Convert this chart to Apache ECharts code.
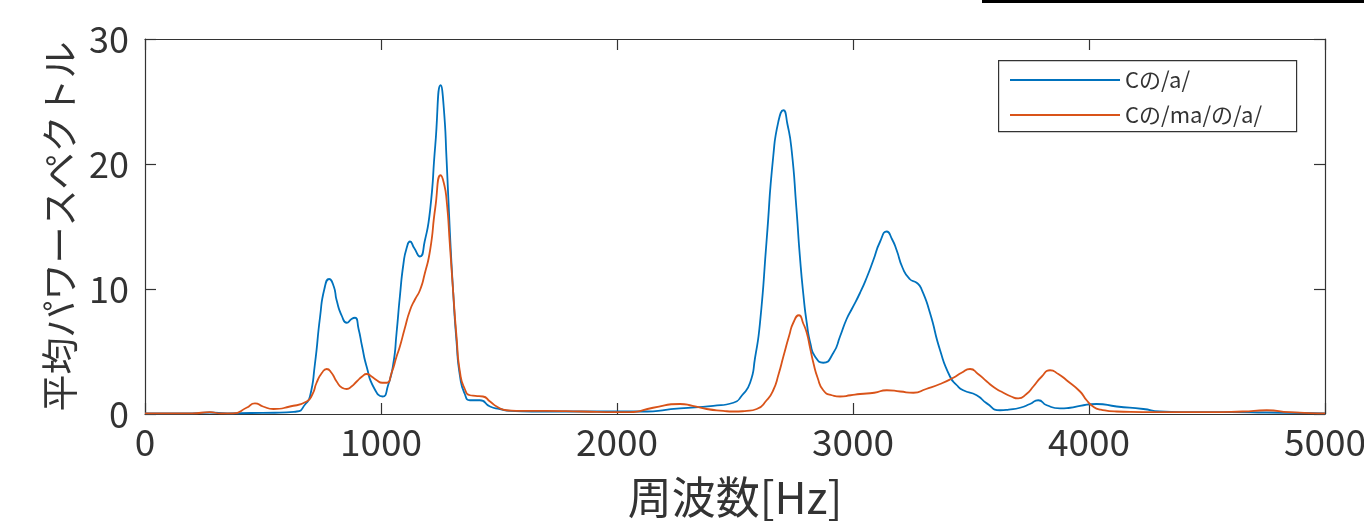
<!DOCTYPE html>
<html>
<head>
<meta charset="utf-8">
<script src="https://cdn.jsdelivr.net/npm/echarts@6/dist/echarts.min.js"></script>
<style>
  html, body { margin: 0; padding: 0; background: #fff; }
  #chart { width: 1364px; height: 521px; }
</style>
</head>
<body>
<div id="chart"></div>
<script>
// Cの/a/
const freqA = [0, 200, 275, 350, 450, 550, 643, 680, 699, 720, 742, 760, 780, 800, 812, 835, 855, 875, 890, 905,
  920, 939, 970, 1007, 1030, 1052, 1066, 1080, 1095, 1109, 1123, 1140, 1165, 1185, 1208, 1230, 1253, 1266, 1278, 1292,
  1306, 1320, 1335, 1355, 1377, 1419, 1462, 1504, 1547, 1700, 1850, 2000, 2100, 2267, 2408, 2493, 2530, 2564, 2585, 2606,
  2634, 2662, 2685, 2705, 2722, 2740, 2760, 2775, 2790, 2804, 2820, 2839, 2874, 2917, 2945, 2973, 2995, 3030, 3060, 3086,
  3115, 3143, 3165, 3185, 3210, 3240, 3270, 3290, 3326, 3369, 3411, 3440, 3467, 3524, 3567, 3623, 3660, 3708, 3750, 3785,
  3821, 3877, 3920, 3962, 4032, 4117, 4230, 4300, 4450, 4600, 4750, 4900, 5000];
const powerA = [0.05, 0.05, 0.12, 0.05, 0.08, 0.1, 0.2, 0.8, 1.4, 4.0, 7.8, 10.0, 10.8, 10.2, 9.1, 7.8, 7.3, 7.6, 7.7, 6.8,
  5.4, 3.8, 2.1, 1.4, 2.3, 4.0, 6.5, 9.4, 12.0, 13.3, 13.8, 13.3, 12.6, 13.8, 16.3, 21.5, 26.3, 24.5, 20.3, 14.5,
  9.7, 5.8, 3.0, 1.6, 1.1, 1.1, 0.6, 0.4, 0.25, 0.2, 0.2, 0.2, 0.2, 0.45, 0.65, 0.9, 1.5, 2.5, 4.5, 7.3,
  13.9, 20.6, 23.5, 24.3, 23.2, 21.1, 16.5, 12.6, 9.5, 7.3, 5.6, 4.6, 4.1, 4.9, 6.2, 7.6, 8.4, 9.7, 11.0, 12.3,
  13.8, 14.6, 14.0, 13.1, 11.7, 10.8, 10.5, 10.0, 8.1, 5.1, 3.0, 2.3, 1.9, 1.5, 0.85, 0.3, 0.35, 0.5, 0.8, 1.1,
  0.7, 0.45, 0.5, 0.65, 0.8, 0.6, 0.4, 0.2, 0.15, 0.15, 0.12, 0.08, 0.05];

// Cの/ma/の/a/
const freqB = [0, 200, 275, 320, 373, 430, 466, 500, 544, 614, 685, 710, 727, 750, 770, 790, 812, 835, 855, 875,
  897, 920, 939, 960, 982, 1005, 1024, 1045, 1066, 1080, 1100, 1123, 1145, 1165, 1185, 1208, 1230, 1253, 1266, 1278,
  1292, 1306, 1320, 1335, 1355, 1377, 1400, 1432, 1462, 1490, 1532, 1600, 1700, 1850, 2000, 2054, 2153, 2267, 2320, 2380,
  2450, 2492, 2550, 2592, 2634, 2662, 2685, 2705, 2730, 2747, 2771, 2790, 2804, 2818, 2832, 2850, 2874, 2910, 2945, 2990,
  3030, 3090, 3143, 3200, 3256, 3310, 3369, 3425, 3460, 3496, 3530, 3567, 3600, 3637, 3670, 3700, 3735, 3764, 3800, 3835,
  3870, 3905, 3962, 3990, 4017, 4050, 4117, 4300, 4500, 4650, 4753, 4850, 5000];
const powerB = [0.05, 0.05, 0.15, 0.05, 0.05, 0.5, 0.85, 0.6, 0.4, 0.6, 1.0, 1.6, 2.5, 3.3, 3.6, 3.3, 2.6, 2.1, 2.0, 2.2,
  2.6, 3.0, 3.2, 3.0, 2.7, 2.5, 2.5, 3.3, 4.6, 5.4, 6.8, 8.3, 9.2, 9.9, 11.2, 13.1, 16.5, 19.1, 18.5, 17.1,
  13.5, 9.7, 6.2, 3.3, 2.0, 1.5, 1.45, 1.4, 1.0, 0.6, 0.3, 0.25, 0.25, 0.2, 0.15, 0.15, 0.5, 0.8, 0.65, 0.4,
  0.25, 0.2, 0.25, 0.4, 1.1, 1.9, 3.2, 4.6, 6.3, 7.3, 7.9, 7.2, 6.5, 5.3, 4.1, 2.9, 1.9, 1.5, 1.4, 1.5,
  1.6, 1.7, 1.9, 1.8, 1.7, 2.0, 2.4, 2.9, 3.3, 3.6, 3.2, 2.6, 2.1, 1.7, 1.4, 1.25, 1.6, 2.2, 3.0, 3.5,
  3.2, 2.7, 1.8, 1.1, 0.6, 0.35, 0.2, 0.15, 0.15, 0.2, 0.3, 0.15, 0.05];

const seriesNames = ['Cの/a/', 'Cの/ma/の/a/'];
const xTicks = { min: 0, max: 5000, interval: 1000 };
const yTicks = { min: 0, max: 30, interval: 10 };
const xTitle = '周波数[Hz]';
const yTitle = '平均パワースペクトル';

const font = '"Noto Sans CJK JP", "Noto Sans", sans-serif';
const axisColor = '#333';

function pairs(xs, ys) {
  return xs.map((x, i) => [x, ys[i]]);
}

const chart = echarts.init(document.getElementById('chart'));

const option = {
  animation: false,
  backgroundColor: '#fff',
  textStyle: { fontFamily: font },
  grid: { left: 145, right: 39, top: 39, bottom: 107, containLabel: false, outerBoundsMode: 'none' },
  xAxis: [
    {
      type: 'value', min: xTicks.min, max: xTicks.max, interval: xTicks.interval,
      name: xTitle, nameLocation: 'middle', nameGap: 61,
      nameTextStyle: { fontSize: 44, color: axisColor, fontFamily: font },
      axisLine: { show: true, lineStyle: { color: axisColor, width: 1.2 } },
      axisTick: { show: true, inside: true, length: 11, lineStyle: { color: axisColor, width: 1.2 } },
      axisLabel: { fontSize: 37, color: axisColor, margin: 9, fontFamily: font, formatter: v => String(v) },
      splitLine: { show: false }
    },
    {
      type: 'value', position: 'top', min: xTicks.min, max: xTicks.max, interval: xTicks.interval,
      axisLine: { show: true, onZero: false, lineStyle: { color: axisColor, width: 1.2 } },
      axisTick: { show: true, inside: true, length: 11, lineStyle: { color: axisColor, width: 1.2 } },
      axisLabel: { show: false },
      splitLine: { show: false }
    }
  ],
  yAxis: [
    {
      type: 'value', min: yTicks.min, max: yTicks.max, interval: yTicks.interval,
      name: yTitle, nameLocation: 'middle', nameGap: 64,
      nameTextStyle: { fontSize: 37, color: axisColor, fontFamily: font },
      axisLine: { show: true, lineStyle: { color: axisColor, width: 1.2 } },
      axisTick: { show: true, inside: true, length: 11, lineStyle: { color: axisColor, width: 1.2 } },
      axisLabel: { fontSize: 36, color: axisColor, margin: 16, fontFamily: font, formatter: v => String(v) },
      splitLine: { show: false }
    },
    {
      type: 'value', position: 'right', min: yTicks.min, max: yTicks.max, interval: yTicks.interval,
      axisLine: { show: true, onZero: false, lineStyle: { color: axisColor, width: 1.2 } },
      axisTick: { show: true, inside: true, length: 11, lineStyle: { color: axisColor, width: 1.2 } },
      axisLabel: { show: false },
      splitLine: { show: false }
    }
  ],
  legend: {
    data: seriesNames,
    orient: 'vertical',
    left: 1010, top: 69,
    padding: 0,
    icon: 'rect',
    itemWidth: 110, itemHeight: 2, itemGap: 13,
    textStyle: { fontSize: 22, color: axisColor, fontFamily: font, lineHeight: 20 }
  },
  graphic: [
    {
      type: 'rect', left: 998, top: 60, z: 3,
      shape: { width: 298, height: 71 },
      style: { fill: 'rgba(0,0,0,0)', stroke: axisColor, lineWidth: 1.2 }
    },
    {
      type: 'rect', left: 982, top: 0,
      shape: { width: 382, height: 3 },
      style: { fill: '#000' }
    }
  ],
  series: [
    {
      name: seriesNames[0], type: 'line', data: pairs(freqA, powerA),
      xAxisIndex: 0, yAxisIndex: 0,
      symbol: 'none', smooth: 0.6,
      lineStyle: { color: '#0072BD', width: 1.8 }, itemStyle: { color: '#0072BD' }
    },
    {
      name: seriesNames[1], type: 'line', data: pairs(freqB, powerB),
      xAxisIndex: 0, yAxisIndex: 0,
      symbol: 'none', smooth: 0.6,
      lineStyle: { color: '#D95319', width: 1.8 }, itemStyle: { color: '#D95319' }
    }
  ]
};

chart.setOption(option);
</script>
</body>
</html>
